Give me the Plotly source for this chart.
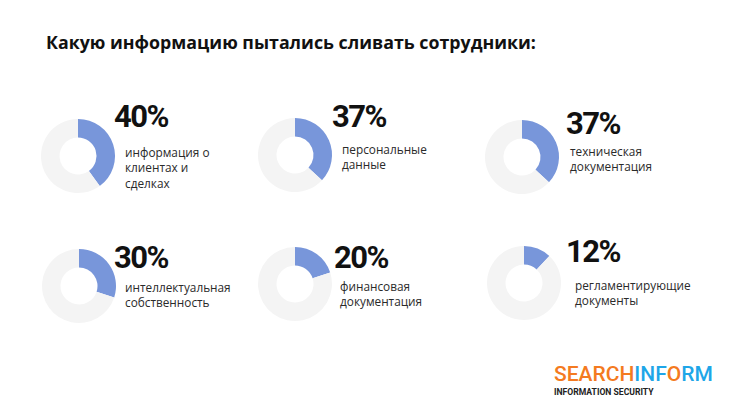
import plotly.graph_objects as go

W, H = 742, 418
OFF = 8  # page body margin offset compensation

# ---- data ----
percents = [40, 37, 37, 30, 20, 12]
labels = [
    ["информация о", "клиентах и", "сделках"],
    ["персональные", "данные"],
    ["техническая", "документация"],
    ["интеллектуальная", "собственность"],
    ["финансовая", "документация"],
    ["регламентирующие", "документы"],
]
title_text = "Какую информацию пытались сливать сотрудники:"

# ---- layout (pixel positions) ----
centers = [(78, 156), (295, 155), (522, 157), (79, 286), (295, 284), (524, 283)]
pct_pos = [(112, 117), (330, 116), (564, 123), (112, 257), (332, 257), (564, 251)]
lab_top = [(123, 149), (340, 146), (568, 148), (123, 284), (338, 283), (573, 282)]
R = 37

BLUE = "#7896da"
GREY = "#f4f4f4"

fig = go.Figure()
ann = []

def px(x):
    return (x - OFF) / W

def py(y):
    return 1 - (y - OFF) / H

for i, p in enumerate(percents):
    cx, cy = centers[i]
    fig.add_trace(go.Pie(
        values=[p, 100 - p],
        marker=dict(colors=[BLUE, GREY], line=dict(width=0)),
        hole=0.5,
        sort=False,
        direction="clockwise",
        rotation=0,
        textinfo="none",
        hoverinfo="skip",
        showlegend=False,
        domain=dict(x=[px(cx - R), px(cx + R)], y=[py(cy + R), py(cy - R)]),
    ))
    x0, y0 = pct_pos[i]
    ann.append(dict(
        x=px(x0), y=py(y0), xref="paper", yref="paper", xanchor="left", yanchor="middle",
        text=f"<span style='letter-spacing:-1.5px'>{p}%</span>", showarrow=False,
        font=dict(family="Roboto", size=31, color="#111111", weight=700),
    ))
    lx, ly = lab_top[i]
    ann.append(dict(
        x=px(lx), y=py(ly - 7), xref="paper", yref="paper",
        xanchor="left", yanchor="top", align="left",
        text="<br>".join(labels[i]), showarrow=False,
        font=dict(family="Open Sans", size=11.8, color="#2a2a2a"),
    ))

# title
ann.append(dict(
    x=px(44), y=py(42), xref="paper", yref="paper", xanchor="left", yanchor="middle",
    text=f"<b>{title_text}</b>", showarrow=False,
    font=dict(family="Open Sans", size=17.8, color="#111111"),
))

# logo
ORANGE = "#f47a20"
LBLUE = "#1ea6e8"
ann.append(dict(
    x=px(552), y=py(374), xref="paper", yref="paper", xanchor="left", yanchor="middle",
    text=(f"<span style='color:{ORANGE}'>SEARCH</span>"
          f"<span style='color:{LBLUE}'>INF</span>"
          f"<span style='color:{ORANGE}'>O</span>"
          f"<span style='color:{LBLUE}'>RM</span>"),
    showarrow=False,
    font=dict(family="Roboto", size=21, weight=500),
))
ann.append(dict(
    x=px(552), y=py(392), xref="paper", yref="paper", xanchor="left", yanchor="middle",
    text="<b>INFORMATION SECURITY</b>", showarrow=False,
    font=dict(family="Roboto", size=8.6, color="#222222"),
))

fig.update_layout(
    width=W, height=H,
    margin=dict(l=0, r=0, t=0, b=0),
    paper_bgcolor="white", plot_bgcolor="white",
    annotations=ann,
)

fig.write_html("out.html")
